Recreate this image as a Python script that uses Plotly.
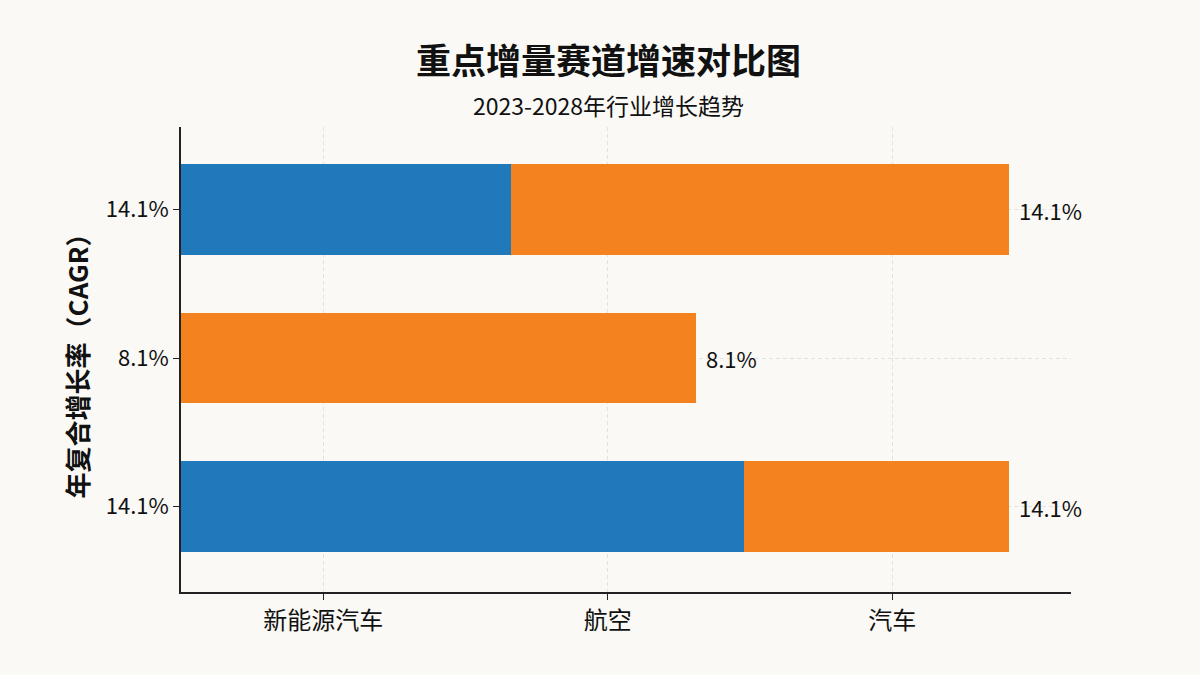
import plotly.graph_objects as go

# Data (bottom to top)
rows = [0, 1, 2]
row_labels = ["14.1%", "8.1%", "14.1%"]
blue_values = [1.98, 0.0, 1.16]
orange_values = [0.93, 1.81, 1.75]
bar_labels = ["14.1%", "8.1%", "14.1%"]
x_tick_vals = [0.5, 1.5, 2.5]
x_tick_text = ["新能源汽车", "航空", "汽车"]

BLUE = "#2079bb"
ORANGE = "#f4821f"
BG = "#faf9f5"
FONT = "Noto Sans CJK SC"

fig = go.Figure()
fig.add_trace(go.Bar(y=rows, x=blue_values, orientation="h", marker=dict(color=BLUE, line=dict(width=0)),
                     width=0.61, showlegend=False, hoverinfo="x"))
fig.add_trace(go.Bar(y=rows, x=orange_values, orientation="h", marker=dict(color=ORANGE, line=dict(width=0)),
                     width=0.61, showlegend=False, hoverinfo="x"))

totals = [b + o for b, o in zip(blue_values, orange_values)]
for r, t, lab in zip(rows, totals, bar_labels):
    fig.add_annotation(x=t, y=r, text=lab, showarrow=False, xanchor="left", xshift=8,
                       font=dict(family=FONT, size=22, color="#111111"))

# Title and subtitle
fig.add_annotation(xref="paper", yref="paper", x=0.48, y=1 + (127 - 86) / 465,
                   xanchor="center", yanchor="bottom", showarrow=False,
                   text="<b>重点增量赛道增速对比图</b>", font=dict(family=FONT, size=35, color="#111111"))
fig.add_annotation(xref="paper", yref="paper", x=0.48, y=1 + (127 - 86) / 465,
                   xanchor="center", yanchor="top", showarrow=False,
                   text="2023-2028年行业增长趋势", font=dict(family=FONT, size=23, color="#111111"))

fig.update_layout(
    barmode="stack",
    width=1200, height=675,
    paper_bgcolor=BG, plot_bgcolor=BG,
    margin=dict(l=181, r=129, t=127, b=83),
    font=dict(family=FONT, color="#111111"),
    xaxis=dict(range=[0, 3.128], tickmode="array", tickvals=x_tick_vals, ticktext=x_tick_text,
               showline=True, linecolor="#222222", linewidth=1.5, ticks="outside", ticklen=6,
               tickcolor="#222222", tickfont=dict(size=24, family=FONT),
               showgrid=True, gridcolor="#e2e2e2", griddash="4px,3px", gridwidth=1, zeroline=False),
    yaxis=dict(range=[-0.574, 2.556], tickmode="array", tickvals=rows, ticktext=row_labels,
               showline=True, linecolor="#222222", linewidth=1.5, ticks="outside", ticklen=6,
               tickcolor="#222222", tickfont=dict(size=22, family=FONT),
               showgrid=True, gridcolor="#e2e2e2", griddash="4px,3px", gridwidth=1, zeroline=False,
               title=dict(text="<b>年复合增长率（CAGR）</b>", font=dict(size=26, family=FONT), standoff=10)),
)

fig.write_html("out.html")
